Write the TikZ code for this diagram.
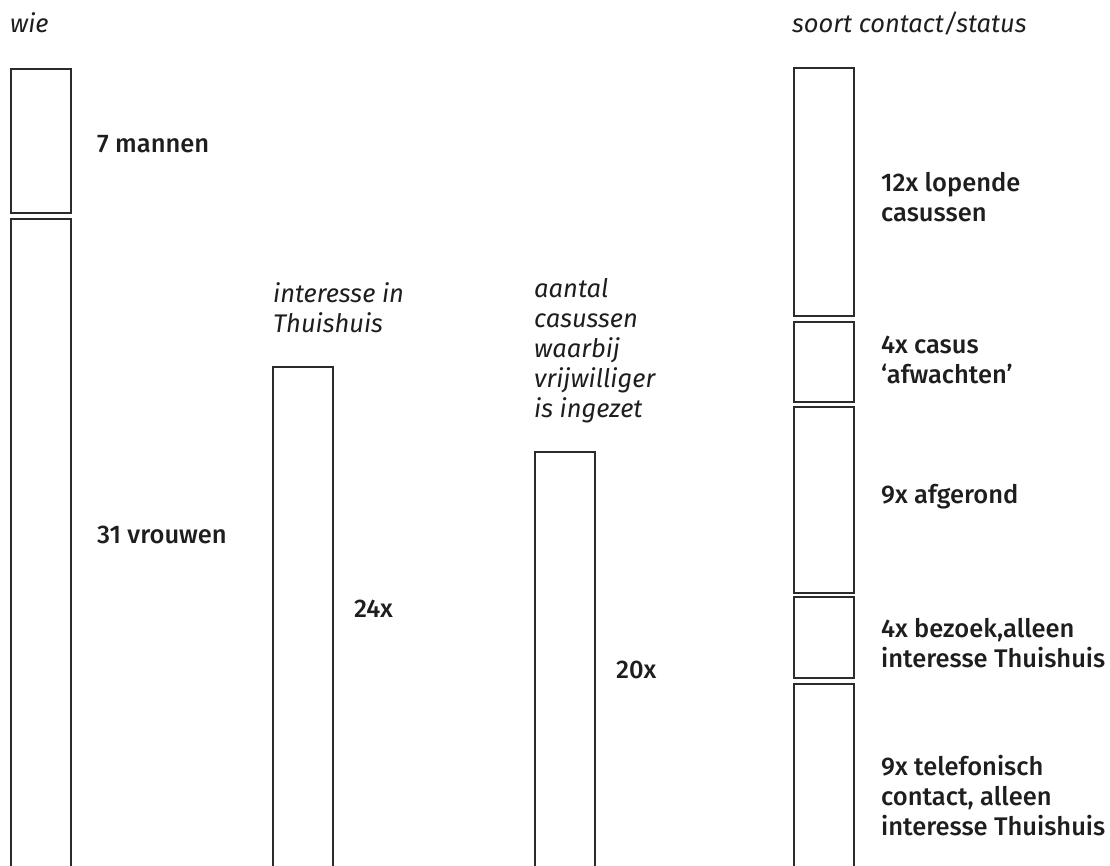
\documentclass[tikz,border=0pt]{standalone}
\usepackage{fontspec}
\setmainfont{Fira Sans}
\newfontfamily\talfont{Fira Sans Medium}
\definecolor{barline}{HTML}{2B2B2B}
\definecolor{tekst}{HTML}{1E1E1E}
\newcommand{\kopfont}{\fontsize{25.5}{30}\selectfont\itshape}
\newcommand{\labfont}{\talfont\fontsize{25.5}{30}\selectfont}

\begin{document}
\begin{tikzpicture}[x=1pt,y=-1pt]
    \tikzstyle{bar}=[draw=barline, line width=2pt, minimum width=60pt, inner sep=0pt, anchor=north west]
    \tikzstyle{kop}=[anchor=base west, inner sep=0pt, align=left, text=tekst, font=\kopfont]
    \tikzstyle{lab}=[anchor=base west, inner sep=0pt, align=left, text=tekst, font=\labfont]
    \useasboundingbox (0,0) rectangle (1110,866);
    \clip (0,0) rectangle (1110,866);
    % wie
    \node[kop] (wie) at (10,33) {wie};
    \node[bar, minimum height=144pt] (mannenBar) at (10,68) {};
    \node[bar, minimum height=732pt] (vrouwenBar) at (10,218) {};
    \node[lab] (mannen) at (97,153) {7 mannen};
    \node[lab] (vrouwen) at (97,543) {31 vrouwen};
    % interesse (base = laatste regel)
    \node[kop] (interesse) at (273,333) {interesse in\\Thuishuis};
    \node[bar, minimum height=584pt] (interesseBar) at (272,366) {};
    \node[lab] (interesseTal) at (354,617) {24x};
    % vrijwilligers
    \node[kop] (ingezet) at (534,417) {aantal\\casussen\\waarbij\\vrijwilliger\\is ingezet};
    \node[bar, minimum height=499pt] (ingezetBar) at (534,451) {};
    \node[lab] (ingezetTal) at (616,678) {20x};
    % soort contact
    \node[kop] (soort) at (792,33) {soort contact/status};
    \node[bar, minimum height=248pt] (lopendBar) at (793,67) {};
    \node[bar, minimum height=80pt] (afwachtBar) at (793,321) {};
    \node[bar, minimum height=186pt] (afgerondBar) at (793,406) {};
    \node[bar, minimum height=81pt] (bezoekBar) at (793,596) {};
    \node[bar, minimum height=267pt] (telefoonBar) at (793,683) {};
    \node[lab] (lopend) at (881,222) {12x lopende\\casussen};
    \node[lab] (afwacht) at (881,383) {4x casus\\‘afwachten’};
    \node[lab] (afgerond) at (881,503) {9x afgerond};
    \node[lab] (bezoek) at (881,667) {4x bezoek,alleen\\interesse Thuishuis};
    \node[lab] (telefoon) at (881,835) {9x telefonisch\\contact, alleen\\interesse Thuishuis};
  \end{tikzpicture}
\end{document}
